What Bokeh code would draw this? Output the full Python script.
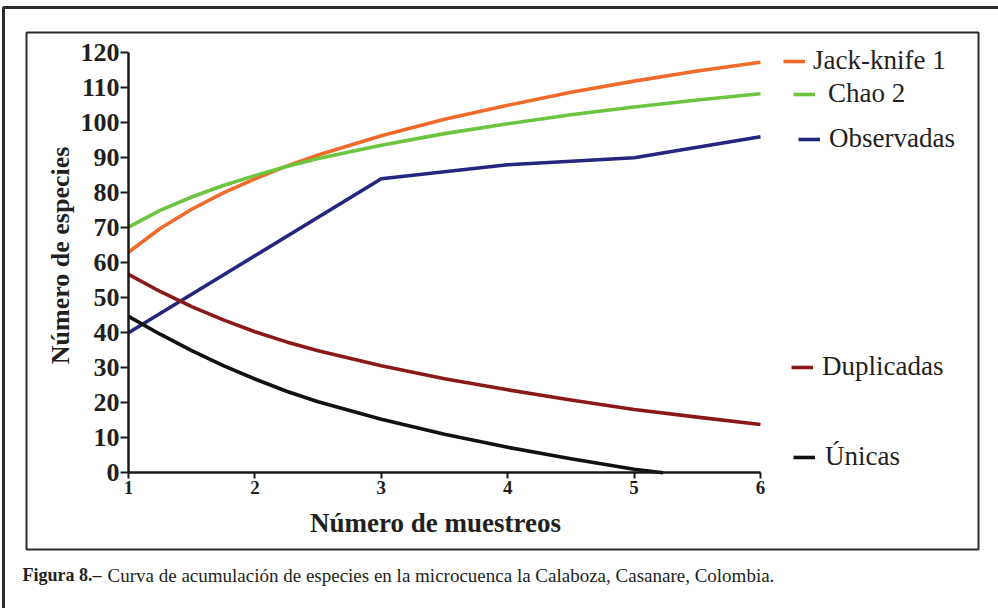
import math
from bokeh.plotting import figure
from bokeh.models import (LinearAxis, FixedTicker, Range1d, Label, Legend,
                          LegendItem, BoxAnnotation)
from bokeh.embed import file_html
from bokeh.resources import INLINE

# ---------------- data ----------------
x_est = [1, 1.25, 1.5, 1.75, 2, 2.25, 2.5, 3, 3.5, 4, 4.5, 5, 5.5, 6]
jack_knife = [63.0, 69.8, 75.3, 80.0, 84.0, 87.6, 90.8, 96.3, 101.0, 105.0, 108.7, 111.9, 114.8, 117.3]
chao2 = [70.2, 75.0, 78.8, 82.1, 84.9, 87.5, 89.8, 93.6, 96.9, 99.7, 102.3, 104.5, 106.5, 108.3]
duplicadas = [56.7, 51.8, 47.5, 43.7, 40.3, 37.4, 34.9, 30.6, 26.9, 23.7, 20.8, 18.1, 15.9, 13.8]

x_obs = [1, 2, 3, 4, 5, 6]
observadas = [40, 62, 84, 88, 90, 96]

x_uni = [1, 1.25, 1.5, 1.75, 2, 2.25, 2.5, 3, 3.5, 4, 4.5, 5, 5.23]
unicas = [44.7, 39.6, 34.9, 30.6, 26.8, 23.3, 20.3, 15.3, 11.0, 7.3, 4.0, 1.0, 0.0]

x_ticks = [1, 2, 3, 4, 5, 6]
y_ticks = [0, 10, 20, 30, 40, 50, 60, 70, 80, 90, 100, 110, 120]

names = ["Jack-knife 1", "Chao 2", "Observadas", "Duplicadas", "Únicas"]
colors = ["#F26A2A", "#6DC43F", "#25267F", "#8A1A1A", "#111111"]

SERIF = "Liberation Serif"
W, H = 998, 608

p = figure(width=W, height=H, output_backend="svg", toolbar_location=None,
           title=None,
           x_range=Range1d(-0.01266, 7.8829), y_range=Range1d(-38.77, 134.94),
           x_axis_location=None, y_axis_location=None,
           min_border_left=0, min_border_right=0,
           min_border_top=0, min_border_bottom=0)
p.grid.visible = False
p.outline_line_color = None
p.background_fill_color = "white"
p.border_fill_color = "white"

# outer figure box (only left/top edges fall inside the picture)
p.add_layout(BoxAnnotation(left=0.01108, right=20, top=132.94, bottom=-100,
                           fill_alpha=0, line_color="#2b2b2b", line_width=3,
                           line_alpha=1, level="underlay"))
# inner chart box
p.add_layout(BoxAnnotation(left=0.19304, right=7.7247, top=125.8, bottom=-21.914,
                           fill_alpha=0, line_color="#2b2b2b", line_width=2,
                           line_alpha=1, level="underlay"))

lw = 3.6
r_jk = p.line(x_est, jack_knife, line_color=colors[0], line_width=lw, line_join="round")
r_ch = p.line(x_est, chao2, line_color=colors[1], line_width=lw, line_join="round")
r_ob = p.line(x_obs, observadas, line_color=colors[2], line_width=lw, line_join="round")
r_du = p.line(x_est, duplicadas, line_color=colors[3], line_width=lw, line_join="round")
r_un = p.line(x_uni, unicas, line_color=colors[4], line_width=lw, line_join="round")

yaxis = LinearAxis(fixed_location=1, bounds=(0, 120),
                   ticker=FixedTicker(ticks=y_ticks, minor_ticks=[]),
                   axis_line_width=2.5, axis_line_color="#1a1a1a",
                   major_tick_line_width=2, major_tick_line_color="#1a1a1a",
                   major_tick_out=8, major_tick_in=0,
                   minor_tick_out=0, minor_tick_in=0,
                   major_label_standoff=1,
                   major_label_text_font=SERIF,
                   major_label_text_font_size="26px",
                   major_label_text_font_style="bold",
                   major_label_text_color="#231F20")
p.add_layout(yaxis, "left")

xaxis = LinearAxis(fixed_location=0, bounds=(1, 6),
                   ticker=FixedTicker(ticks=x_ticks, minor_ticks=[]),
                   axis_line_width=2.5, axis_line_color="#1a1a1a",
                   major_tick_line_width=2, major_tick_line_color="#1a1a1a",
                   major_tick_out=6, major_tick_in=0,
                   minor_tick_out=0, minor_tick_in=0,
                   major_label_standoff=2,
                   major_label_text_font=SERIF,
                   major_label_text_font_size="19px",
                   major_label_text_font_style="bold",
                   major_label_text_color="#231F20")
p.add_layout(xaxis, "below")

# axis titles
p.add_layout(Label(x=0.462, y=62.1, text="Número de especies", angle=math.pi / 2,
                   text_font=SERIF, text_font_size="26px", text_font_style="bold",
                   text_align="center", text_baseline="middle", text_color="#231F20"))
p.add_layout(Label(x=3.429, y=-14.2, text="Número de muestreos",
                   text_font=SERIF, text_font_size="27px", text_font_style="bold",
                   text_align="center", text_baseline="middle", text_color="#231F20"))

# caption
p.add_layout(Label(x=0.161, y=-29.3, text="Figura 8.–",
                   text_font=SERIF, text_font_size="18px", text_font_style="bold",
                   text_align="left", text_baseline="middle", text_color="#231F20"))
p.add_layout(Label(x=0.834, y=-29.3,
                   text="Curva de acumulación de especies en la microcuenca la Calaboza, Casanare, Colombia.",
                   text_font=SERIF, text_font_size="19px",
                   text_align="left", text_baseline="middle", text_color="#231F20"))

# legends (one per entry, placed next to each curve end); location in px from frame bottom-left
leg_spec = [
    (r_jk, names[0], 783, 532, 8, "alphabetic"),
    (r_ch, names[1], 793, 499, 13, "middle"),
    (r_ob, names[2], 798, 454, 9, "middle"),
    (r_du, names[3], 791, 226, 9, "alphabetic"),
    (r_un, names[4], 793, 136, 10, "alphabetic"),
]
for rend, name, lx, ly, st, bl in leg_spec:
    lg = Legend(items=[LegendItem(label=name, renderers=[rend])],
                location=(lx, ly), padding=0, margin=0, spacing=0,
                glyph_width=22, glyph_height=30, label_height=30,
                label_standoff=st, border_line_color=None,
                background_fill_alpha=0,
                label_text_font=SERIF, label_text_font_size="27px",
                label_text_color="#231F20", label_text_baseline=bl)
    p.add_layout(lg, "center")

open("out.html", "w").write(file_html(p, INLINE))
